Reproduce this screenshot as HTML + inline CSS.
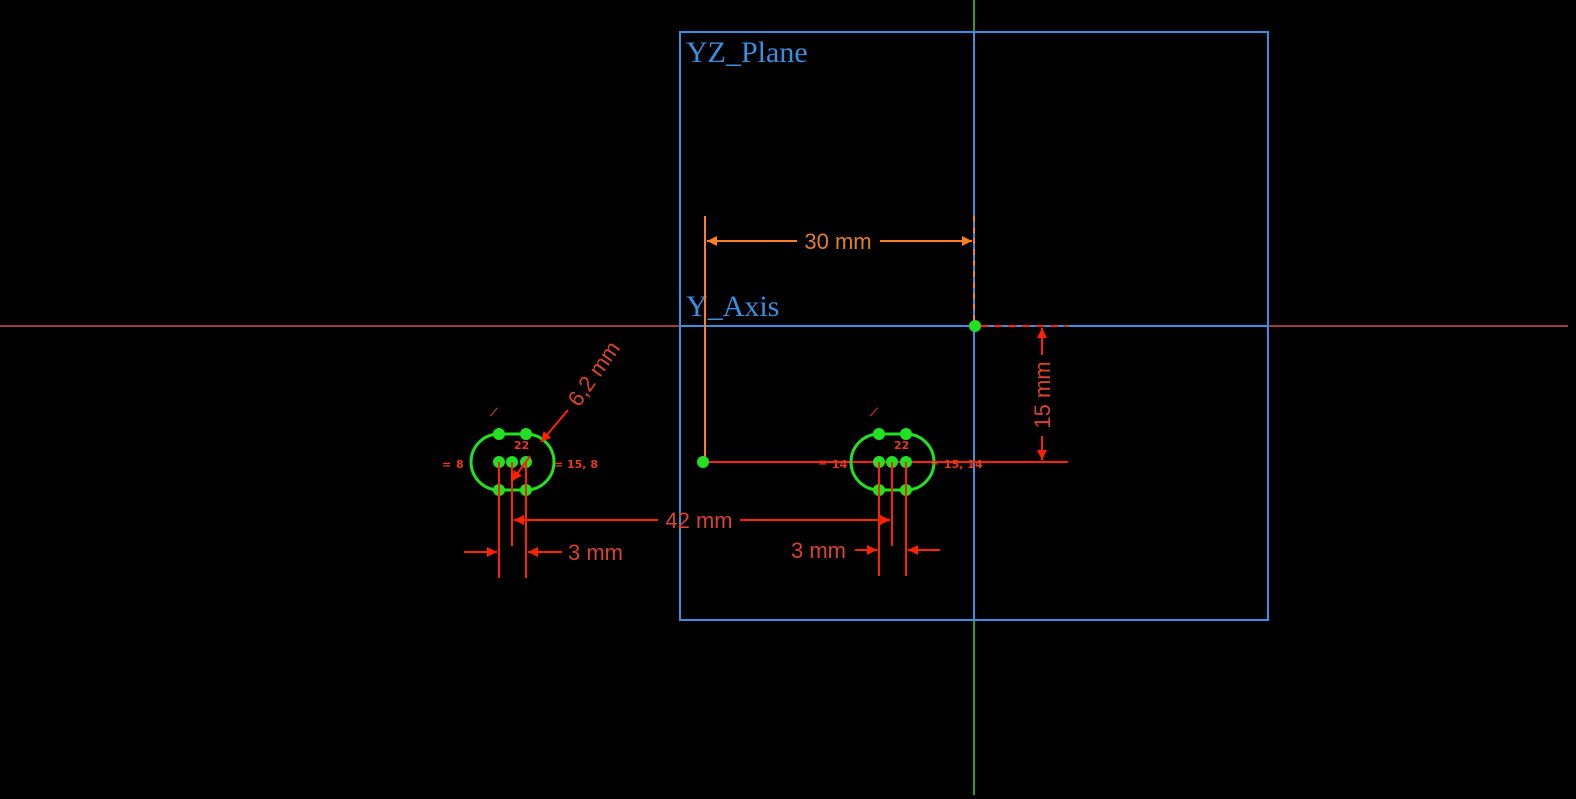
<!DOCTYPE html>
<html><head><meta charset="utf-8"><style>
html,body{margin:0;padding:0;background:#000;width:1576px;height:799px;overflow:hidden}
svg{display:block}
.dim{font-family:"Liberation Sans",sans-serif;font-size:22px;fill:#d9442c}
.sm{font-family:"DejaVu Sans",sans-serif;font-size:11px;font-weight:bold;fill:#e8391c}
.lbl{font-family:"Liberation Serif",serif;font-size:30px;fill:#3a8fe2}
</style></head><body>
<svg width="1576" height="799" viewBox="0 0 1576 799">
<defs>
<marker id="ar" viewBox="0 0 10 10" refX="10" refY="5" markerWidth="12" markerHeight="10" markerUnits="userSpaceOnUse" orient="auto"><path d="M0,0L10,5L0,10z" fill="#ff2200"/></marker>
<marker id="ao" viewBox="0 0 10 10" refX="10" refY="5" markerWidth="12" markerHeight="10" markerUnits="userSpaceOnUse" orient="auto"><path d="M0,0L10,5L0,10z" fill="#ff7f20"/></marker>
</defs>
<!-- axes -->
<line x1="0" y1="326" x2="1568" y2="326" stroke="#d85040" stroke-width="1.5"/>
<line x1="974" y1="0" x2="974" y2="795" stroke="#40d040" stroke-width="1.5"/>
<!-- plane -->
<rect x="680" y="32" width="588" height="588" fill="none" stroke="#3a8fe2" stroke-width="2"/>
<line x1="974" y1="32" x2="974" y2="620" stroke="#3a8fe2" stroke-width="2"/>
<line x1="680" y1="326" x2="1268" y2="326" stroke="#3a8fe2" stroke-width="2"/>
<text x="686" y="62" class="lbl">YZ_Plane</text>
<text x="686" y="316" class="lbl">Y_Axis</text>
<!-- 30mm orange -->
<g>
<line x1="705" y1="216" x2="705" y2="462" stroke="#ff7f20" stroke-width="2"/>
<line x1="974" y1="216" x2="974" y2="326" stroke="#ff7f20" stroke-width="2" stroke-dasharray="6,5"/>
<line x1="797" y1="241" x2="707" y2="241" stroke="#ff7f20" stroke-width="2" marker-end="url(#ao)"/>
<line x1="880" y1="241" x2="972" y2="241" stroke="#ff7f20" stroke-width="2" marker-end="url(#ao)"/>
<text x="838" y="249" text-anchor="middle" class="dim" style="fill:#e0802e">30 mm</text>
</g>
<!-- red horizontal -->
<line x1="703" y1="462" x2="1068" y2="462" stroke="#ff2200" stroke-width="2"/>
<line x1="980" y1="326" x2="1068" y2="326" stroke="#ff2200" stroke-width="2" stroke-dasharray="8,6"/>
<!-- 15mm -->
<g>
<line x1="1042" y1="355" x2="1042" y2="328" stroke="#ff2200" stroke-width="2" marker-end="url(#ar)"/>
<line x1="1042" y1="436" x2="1042" y2="460" stroke="#ff2200" stroke-width="2" marker-end="url(#ar)"/>
<text transform="translate(1050,395) rotate(-90)" text-anchor="middle" class="dim">15 mm</text>
</g>
<!-- slots -->
<g fill="none" stroke="#22e022" stroke-width="3">
<path d="M499,434 L526,434 A28,28 0 0 1 526,490 L499,490 A28,28 0 0 1 499,434 Z"/>
</g>
<g fill="none" stroke="#22e022" stroke-width="3">
<path d="M879,434 L906,434 A28,28 0 0 1 906,490 L879,490 A28,28 0 0 1 879,434 Z"/>
</g>
<g fill="#22e022">
<circle cx="499" cy="434" r="6"/><circle cx="526" cy="434" r="6"/><circle cx="499" cy="462" r="6"/><circle cx="512" cy="462" r="6"/><circle cx="526" cy="462" r="6"/><circle cx="499" cy="490" r="6"/><circle cx="526" cy="490" r="6"/>
<circle cx="879" cy="434" r="6"/><circle cx="906" cy="434" r="6"/><circle cx="879" cy="462" r="6"/><circle cx="892" cy="462" r="6"/><circle cx="906" cy="462" r="6"/><circle cx="879" cy="490" r="6"/><circle cx="906" cy="490" r="6"/>
<circle cx="703" cy="462" r="6"/><circle cx="975" cy="326" r="6"/>
</g>
<!-- vertical dim lines -->
<g stroke="#ff2200" stroke-width="2">
<line x1="499" y1="462" x2="499" y2="578"/><line x1="512" y1="462" x2="512" y2="546"/><line x1="526" y1="462" x2="526" y2="578"/>
<line x1="879" y1="462" x2="879" y2="576"/><line x1="892" y1="462" x2="892" y2="546"/><line x1="906" y1="462" x2="906" y2="576"/>
</g>
<g>
<line x1="658" y1="520" x2="514" y2="520" stroke="#ff2200" stroke-width="2" marker-end="url(#ar)"/>
<line x1="740" y1="520" x2="890" y2="520" stroke="#ff2200" stroke-width="2" marker-end="url(#ar)"/>
<text x="699" y="528" text-anchor="middle" class="dim">42 mm</text>
</g>
<g>
<line x1="464" y1="552" x2="497" y2="552" stroke="#ff2200" stroke-width="2" marker-end="url(#ar)"/>
<line x1="562" y1="552" x2="528" y2="552" stroke="#ff2200" stroke-width="2" marker-end="url(#ar)"/>
<text x="568" y="560" class="dim">3 mm</text>
</g>
<g>
<line x1="855" y1="550" x2="877" y2="550" stroke="#ff2200" stroke-width="2" marker-end="url(#ar)"/>
<line x1="940" y1="550" x2="908" y2="550" stroke="#ff2200" stroke-width="2" marker-end="url(#ar)"/>
<text x="791" y="558" class="dim">3 mm</text>
</g>
<g>
<line x1="568" y1="410" x2="541" y2="442" stroke="#ff2200" stroke-width="2" marker-end="url(#ar)"/>
<line x1="530" y1="456" x2="512" y2="481" stroke="#ff2200" stroke-width="2" marker-end="url(#ar)"/>
<text transform="translate(600,378) rotate(-55)" text-anchor="middle" class="dim">6,2 mm</text>
</g>
<!-- constraint labels -->
<g>
<text x="442" y="468" class="sm">=</text><text x="456" y="468" class="sm">8</text>
<text x="554" y="468" class="sm">=</text><text x="567" y="468" class="sm">15, 8</text>
<text x="514" y="449" class="sm">22</text>
<text x="818" y="466" class="sm">=</text><text x="832" y="468" class="sm">14</text>
<text x="930" y="466" class="sm">=</text><text x="944" y="468" class="sm">15, 14</text>
<text x="894" y="449" class="sm">22</text>
<text x="490" y="416" class="sm" transform="rotate(0)">⟋</text>
<text x="870" y="416" class="sm">⟋</text>
</g>
</svg>
</body></html>
